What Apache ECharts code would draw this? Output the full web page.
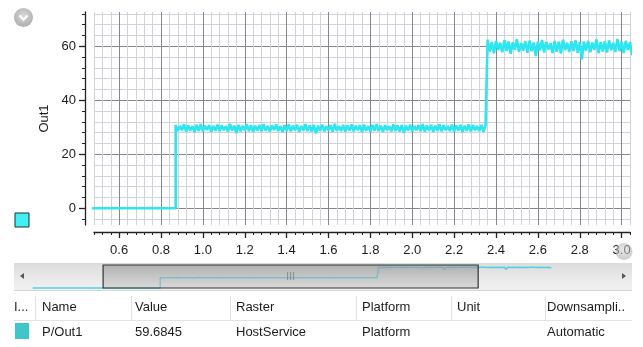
<!DOCTYPE html>
<html>
<head>
<meta charset="utf-8">
<script src="https://cdn.jsdelivr.net/npm/echarts@6/dist/echarts.min.js"></script>
<style>
  html, body { margin: 0; padding: 0; background: #ffffff; }
  #chart { width: 643px; height: 347px; }
</style>
</head>
<body>
<div id="chart"></div>
<script>
// Signal P/Out1: flat at 0, then two step changes with measurement noise.
const signalName = 'P/Out1';
const lowTimes = [0, 0.87];
const lowValues = [0, 0];
const midStart = 0.87;
const highStart = 2.36;
const rasterStep = 0.01;

const midValues = [
  30.8, 28.6, 30.5, 28.9, 31.1, 28.4, 30.7, 28.8, 30.4, 28.2, 30.9, 28.7, 31.2, 28.5, 30.6, 29.0, 30.8, 28.3, 30.5, 28.7,
  31.0, 28.6, 30.7, 28.9, 30.4, 28.4, 31.3, 28.8, 30.6, 27.8, 30.9, 28.5, 30.5, 28.9, 31.1, 28.6, 30.8, 28.3, 30.6, 28.7,
  30.9, 28.5, 31.2, 28.8, 30.5, 28.4, 30.7, 29.0, 31.0, 28.6, 30.4, 28.2, 30.8, 28.7, 31.1, 28.5, 30.6, 28.9, 30.9, 28.3,
  30.5, 28.8, 31.2, 28.6, 30.7, 28.4, 30.9, 27.7, 30.6, 28.8, 31.0, 28.5, 30.4, 28.9, 30.8, 28.3, 31.3, 28.7, 30.5, 28.6,
  30.9, 28.4, 30.7, 28.8, 31.1, 28.5, 30.6, 28.9, 30.8, 28.2, 31.0, 28.7, 30.5, 28.4, 30.9, 28.8, 31.2, 28.6, 30.6, 28.3,
  30.8, 28.9, 30.4, 28.5, 31.1, 28.7, 30.7, 28.4, 30.9, 27.9, 30.6, 28.8, 31.0, 28.5, 30.5, 28.9, 30.8, 28.6, 31.2, 28.4,
  30.7, 28.8, 30.9, 28.3, 30.6, 28.7, 31.1, 28.5, 30.8, 28.9, 30.4, 28.6, 31.0, 28.4, 30.7, 28.8, 30.9, 28.2, 30.6, 28.7,
  31.1, 28.5, 30.8, 28.9, 30.5, 28.6, 30.9, 28.4, 30.7
];

const highValues = [
  62.4, 58.1, 61.6, 57.4, 62.0, 58.6, 61.3, 57.8, 62.2, 58.3, 61.8, 57.2, 61.5, 58.7, 62.6, 57.9, 61.2, 58.4, 61.9, 57.6,
  62.1, 58.2, 61.4, 56.4, 61.8, 58.5, 62.3, 57.7, 61.6, 58.8, 61.1, 57.5, 62.0, 58.0, 61.7, 57.3, 62.4, 58.6, 61.3, 57.9,
  61.9, 58.3, 62.2, 57.6, 61.5, 55.2, 61.8, 58.4, 62.0, 57.8, 61.4, 58.7, 62.5, 57.4, 61.6, 58.1, 61.9, 57.7, 62.2, 58.5,
  61.3, 57.9, 62.7, 58.2, 61.7, 57.5, 62.0, 58.6, 61.5, 56.8, 61.9, 58.0, 62.3, 57.6, 61.2, 58.4, 61.8, 57.8, 62.1, 58.3,
  61.6, 57.4, 62.4, 58.7, 61.4, 57.9, 61.9, 55.6, 62.2, 58.2, 61.7, 57.7, 62.0, 58.5, 61.3, 57.6, 62.5, 58.1, 61.8, 57.8,
  62.1, 58.4, 61.5, 57.3, 61.9, 58.6, 62.3, 57.9, 61.6, 58.2, 62.0, 56.9, 61.7, 58.5, 61.4, 57.7, 62.2, 58.0, 59.6845
];

// Axis tick labels
const xTickLabels = [0.6, 0.8, 1.0, 1.2, 1.4, 1.6, 1.8, 2.0, 2.2, 2.4, 2.6, 2.8, 3.0];
const yTickLabels = [0, 20, 40, 60];

// Signal table
const tableHeader = ['I...', 'Name', 'Value', 'Raster', 'Platform', 'Unit', 'Downsampli..'];
const tableRow = ['', signalName, String(highValues[highValues.length - 1]), 'HostService', 'Platform', '', 'Automatic'];

// Visible window and full range of the overview strip
const view = { xMin: 0.48, xMax: 3.04, yMin: -6.2, yMax: 72.7 };
const overview = { xMin: -0.128, xMax: 4.09, yMin: -3, yMax: 72 };

// Assemble [time, value] pairs on the sample raster
const series = [];
lowTimes.forEach((t, i) => series.push([t, lowValues[i]]));
midValues.forEach((v, i) => series.push([+(midStart + i * rasterStep).toFixed(3), v]));
highValues.forEach((v, i) => series.push([+(highStart + i * rasterStep).toFixed(3), v]));

// Minor grid positions
function steps(from, to, step) {
  const out = [];
  for (let v = from; v <= to + 1e-9; v += step) out.push(+v.toFixed(3));
  return out;
}
const xMinor = steps(0.48, 3.04, 0.04);
const yMinor = steps(-4, 72, 4);

const FONT = '"Liberation Sans", Arial, sans-serif';
const TXT = '#1c1c1c';
const LINE = '#2ee6f0';
const MAJOR = '#858594';
const MINOR = '#d2d2da';

const chart = echarts.init(document.getElementById('chart'), null, { renderer: 'canvas' });

chart.setOption({
  animation: false,
  backgroundColor: '#ffffff',
  grid: [
    { left: 94, top: 12, width: 536, height: 213, show: false },
    { left: 14, top: 264, width: 618, height: 25, show: false }
  ],
  xAxis: [
    {
      type: 'value', gridIndex: 0, min: view.xMin, max: view.xMax, position: 'bottom', offset: 7,
      axisLine: { show: true, onZero: false, lineStyle: { color: '#222', width: 1.3 } },
      axisTick: { show: true, customValues: xMinor, length: 3, lineStyle: { color: '#222', width: 1 } },
      axisLabel: { show: false },
      splitLine: { show: true, lineStyle: { color: MINOR, width: 1 } }
    },
    {
      type: 'value', gridIndex: 0, min: view.xMin, max: view.xMax, position: 'bottom', offset: 7,
      axisLine: { show: false, onZero: false },
      axisTick: { show: true, customValues: xTickLabels, length: 6, lineStyle: { color: '#222', width: 1.3 } },
      axisLabel: {
        show: true, customValues: xTickLabels, margin: 12,
        formatter: v => v.toFixed(1), fontSize: 13, fontFamily: FONT, color: TXT
      },
      splitLine: { show: true, lineStyle: { color: MAJOR, width: 1 } }
    },
    { type: 'value', gridIndex: 1, min: overview.xMin, max: overview.xMax, show: false }
  ],
  yAxis: [
    {
      type: 'value', gridIndex: 0, min: view.yMin, max: view.yMax, position: 'left', offset: 9,
      name: 'Out1', nameLocation: 'middle', nameGap: 34, nameRotate: 90,
      nameTextStyle: { fontSize: 13, fontFamily: FONT, color: TXT },
      axisLine: { show: true, onZero: false, lineStyle: { color: '#222', width: 1.3 } },
      axisTick: { show: true, customValues: yMinor, length: 3, lineStyle: { color: '#222', width: 1 } },
      axisLabel: { show: false },
      splitLine: { show: true, lineStyle: { color: MINOR, width: 1 } }
    },
    {
      type: 'value', gridIndex: 0, min: view.yMin, max: view.yMax, position: 'left', offset: 9,
      axisLine: { show: false, onZero: false },
      axisTick: { show: true, customValues: yTickLabels, length: 6, lineStyle: { color: '#222', width: 1.3 } },
      axisLabel: {
        show: true, customValues: yTickLabels, margin: 9,
        fontSize: 13, fontFamily: FONT, color: TXT
      },
      splitLine: { show: true, lineStyle: { color: MAJOR, width: 1 } }
    },
    { type: 'value', gridIndex: 1, min: overview.yMin, max: overview.yMax, show: false }
  ],
  series: [
    {
      name: signalName, type: 'line', xAxisIndex: 0, yAxisIndex: 0,
      data: series, showSymbol: false, symbol: 'none', z: 5,
      lineStyle: { color: LINE, width: 2.6 }, silent: true
    },
    {
      name: signalName + ' overview', type: 'line', xAxisIndex: 2, yAxisIndex: 2,
      data: series, showSymbol: false, symbol: 'none', z: 3,
      lineStyle: { color: '#54cfe2', width: 1.5 }, silent: true
    }
  ]
});

// Overview strip: track, arrows, window thumb; plus toolbar icons and the signal table
const thumbL = chart.convertToPixel({ xAxisIndex: 2 }, view.xMin);
const thumbR = chart.convertToPixel({ xAxisIndex: 2 }, view.xMax);
const thumbC = (thumbL + thumbR) / 2;

const colX = [14, 42, 135, 236, 362, 457, 547];
const sepX = [35, 131, 230, 356, 451, 545];

const graphics = [
  // overview track
  {
    type: 'rect', z: 0, silent: true,
    shape: { x: 14, y: 263, width: 618, height: 27 },
    style: {
      fill: new echarts.graphic.LinearGradient(0, 0, 0, 1, [
        { offset: 0, color: '#dcdcdc' }, { offset: 0.5, color: '#e8e8e8' }, { offset: 1, color: '#f1f1f1' }
      ])
    }
  },
  { type: 'line', z: 1, silent: true, shape: { x1: 14, y1: 290.5, x2: 632, y2: 290.5 }, style: { stroke: '#d4d4d4', lineWidth: 1 } },
  { type: 'polygon', z: 12, silent: true, shape: { points: [[20, 276], [24, 273], [24, 279]] }, style: { fill: '#555' } },
  { type: 'polygon', z: 12, silent: true, shape: { points: [[626, 276], [622, 273], [622, 279]] }, style: { fill: '#555' } },
  // window thumb
  {
    type: 'rect', z: 10, silent: true,
    shape: { x: thumbL, y: 265, width: thumbR - thumbL, height: 23 },
    style: {
      fill: new echarts.graphic.LinearGradient(0, 0, 0, 1, [
        { offset: 0, color: 'rgba(150,150,150,0.65)' }, { offset: 0.5, color: 'rgba(170,170,170,0.55)' },
        { offset: 1, color: 'rgba(195,195,195,0.5)' }
      ]),
      stroke: '#333', lineWidth: 1.2
    }
  },
  { type: 'line', z: 11, silent: true, shape: { x1: thumbC - 3, y1: 272, x2: thumbC - 3, y2: 280 }, style: { stroke: '#888', lineWidth: 1 } },
  { type: 'line', z: 11, silent: true, shape: { x1: thumbC, y1: 272, x2: thumbC, y2: 280 }, style: { stroke: '#888', lineWidth: 1 } },
  { type: 'line', z: 11, silent: true, shape: { x1: thumbC + 3, y1: 272, x2: thumbC + 3, y2: 280 }, style: { stroke: '#888', lineWidth: 1 } },
  // toolbar menu button
  {
    type: 'circle', z: 20, silent: true, shape: { cx: 23.5, cy: 17.5, r: 9.5 },
    style: {
      fill: new echarts.graphic.RadialGradient(0.5, 0.4, 0.7, [
        { offset: 0, color: '#d6d6d6' }, { offset: 1, color: '#a9a9a9' }
      ])
    }
  },
  {
    type: 'polyline', z: 21, silent: true, shape: { points: [[19.5, 15.5], [23.5, 19.5], [27.5, 15.5]] },
    style: { stroke: '#ffffff', lineWidth: 2.4, fill: null }
  },
  // scroll corner button (translucent, label shows through)
  {
    type: 'circle', z: 20, silent: true, shape: { cx: 624, cy: 251.5, r: 8.5 },
    style: {
      fill: new echarts.graphic.RadialGradient(0.5, 0.4, 0.7, [
        { offset: 0, color: 'rgba(215,215,215,0.55)' }, { offset: 1, color: 'rgba(160,160,160,0.6)' }
      ])
    }
  },
  // series colour swatch
  {
    type: 'rect', z: 20, silent: true, shape: { x: 15, y: 213, width: 14, height: 14 },
    style: { fill: '#3ff0f6', stroke: '#2a2a2a', lineWidth: 1 }
  },
  // table lines
  { type: 'line', z: 1, silent: true, shape: { x1: 14, y1: 320.5, x2: 632, y2: 320.5 }, style: { stroke: '#e3e3e3', lineWidth: 1 } },
  // row swatch
  { type: 'rect', z: 2, silent: true, shape: { x: 15, y: 323, width: 14, height: 16 }, style: { fill: '#3ec6c8' } }
];

sepX.forEach(x => graphics.push({
  type: 'line', z: 1, silent: true,
  shape: { x1: x + 0.5, y1: 296, x2: x + 0.5, y2: 320 },
  style: { stroke: '#e2e2e2', lineWidth: 1 }
}));

tableHeader.forEach((t, i) => graphics.push({
  type: 'text', z: 3, silent: true,
  style: { text: t, x: colX[i], y: 307, font: '13px ' + FONT, fill: TXT, textAlign: 'left', textVerticalAlign: 'middle', verticalAlign: 'middle' }
}));
tableRow.forEach((t, i) => {
  if (!t) return;
  graphics.push({
    type: 'text', z: 3, silent: true,
    style: { text: t, x: colX[i], y: 332, font: '13px ' + FONT, fill: TXT, textAlign: 'left', textVerticalAlign: 'middle', verticalAlign: 'middle' }
  });
});

chart.setOption({ graphic: graphics });
</script>
</body>
</html>
